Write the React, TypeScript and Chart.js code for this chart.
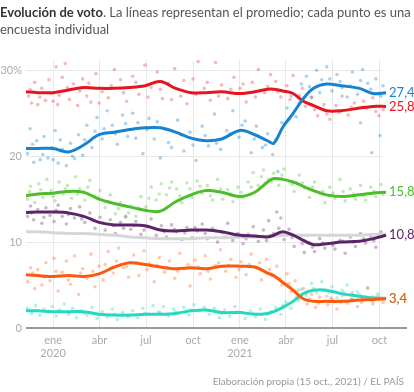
import { useEffect, useRef } from "react";
import { Chart, registerables } from "chart.js";

Chart.register(...registerables);

const FONT = "Lato, 'Open Sans', sans-serif";

// days since 1 Jan 2020
const lineDays = [-53, -30, 0, 30, 60, 90, 120, 150, 180, 210, 240, 270, 300, 330, 366, 395, 420, 432, 450, 470, 490, 510, 535, 565, 600, 626, 652];

const psoeLine = [27.5, 27.4, 27.4, 27.7, 28.0, 27.9, 27.9, 28.0, 28.2, 28.7, 27.9, 27.4, 27.4, 27.5, 27.3, 27.5, 27.8, 27.8, 27.6, 27.3, 26.4, 25.9, 25.3, 25.3, 25.6, 25.8, 25.8];
const ppLine = [20.9, 20.9, 20.9, 20.5, 21.3, 22.5, 22.8, 23.1, 23.3, 23.3, 22.8, 22.1, 21.8, 22.0, 23.0, 22.5, 21.8, 21.5, 23.4, 25.0, 26.7, 27.9, 28.4, 28.2, 27.9, 27.3, 27.4];
const voxLine = [15.4, 15.6, 15.7, 15.9, 15.8, 15.0, 14.5, 14.1, 13.7, 13.6, 14.7, 15.5, 16.0, 15.8, 15.3, 15.8, 17.0, 17.4, 17.3, 17.0, 16.5, 16.0, 15.5, 15.3, 15.5, 15.7, 15.8];
const upLine = [13.45, 13.5, 13.5, 13.4, 13.0, 12.3, 12.0, 12.0, 11.9, 11.4, 11.3, 11.4, 11.4, 11.2, 10.8, 10.7, 10.6, 10.8, 11.2, 10.8, 10.2, 9.7, 9.8, 10.0, 10.1, 10.4, 10.8];
const otherLine = [11.2, 11.2, 11.1, 11.0, 11.0, 10.9, 10.8, 10.6, 10.5, 10.4, 10.4, 10.4, 10.5, 10.5, 10.6, 10.6, 10.7, 10.7, 10.8, 10.8, 10.8, 10.8, 10.8, 10.8, 10.8, 10.9, 10.9];
const csLine = [6.2, 6.1, 6.0, 6.1, 6.0, 6.3, 7.1, 7.6, 7.4, 7.1, 6.9, 7.0, 6.9, 7.2, 7.2, 7.1, 6.4, 6.1, 5.3, 4.4, 3.4, 3.1, 3.1, 3.1, 3.25, 3.3, 3.4];
const mpLine = [2.0, 2.0, 1.9, 1.9, 1.9, 1.6, 1.5, 1.5, 1.6, 1.6, 1.7, 2.0, 2.1, 1.8, 1.8, 1.6, 1.7, 1.9, 2.4, 3.1, 4.0, 4.4, 4.4, 4.0, 3.7, 3.5, 3.45];

// individual polls [day, value]
const psoeDots = [[-48,27.0],[-42,26.2],[-36,28.6],[-30,26.0],[-22,27.9],[-15,26.5],[-8,28.9],[0,26.4],[6,30.4],[12,27.1],[18,29.2],[24,30.8],[32,26.6],[40,28.4],[48,25.9],[58,29.0],[66,27.0],[74,26.3],[84,29.6],[96,27.5],[108,26.8],[120,30.1],[132,28.9],[144,26.4],[156,29.3],[168,27.2],[180,30.6],[192,28.0],[204,29.8],[214,26.7],[226,28.5],[238,30.2],[250,27.0],[262,26.1],[274,29.0],[284,31.0],[296,27.9],[308,26.5],[318,30.9],[330,28.3],[342,26.7],[354,29.2],[366,27.9],[378,26.3],[390,28.6],[402,30.1],[414,27.4],[426,29.5],[436,28.7],[446,26.9],[458,28.2],[470,29.4],[482,27.1],[494,25.8],[506,26.9],[518,24.7],[530,26.0],[542,24.3],[554,25.9],[566,27.0],[578,24.8],[590,26.2],[602,23.9],[614,25.6],[626,26.8],[638,24.7],[646,25.4],
  [-45,27.8],[-26,26.9],[-4,27.3],[9,26.0],[28,28.0],[52,27.6],[70,28.5],[90,26.2],[114,28.2],[138,27.4],[162,28.6],[186,26.9],[210,27.8],[232,26.6],[256,28.8],[280,27.2],[302,28.6],[324,27.0],[348,27.8],[372,28.4],[396,26.9],[420,28.1],[440,27.5],[464,26.6],[488,27.9],[512,25.4],[536,24.9],[560,25.1],[584,25.7],[608,26.4],[632,25.2]];
const ppDots = [[-50,20.3],[-45,23.2],[-38,19.3],[-32,21.8],[-25,19.6],[-18,22.3],[-10,19.8],[-3,21.0],[4,23.0],[10,19.2],[18,20.8],[26,18.9],[34,21.5],[42,19.7],[50,22.5],[58,20.1],[66,23.6],[76,21.0],[86,24.5],[96,22.0],[106,25.3],[116,23.6],[126,21.4],[136,24.8],[146,22.3],[156,25.0],[166,23.9],[176,20.3],[188,24.4],[198,22.0],[210,19.8],[220,23.1],[232,21.0],[244,24.2],[256,20.6],[268,22.8],[280,19.5],[292,23.5],[304,21.2],[316,24.9],[328,20.8],[340,23.0],[352,25.3],[364,22.2],[376,24.1],[388,20.4],[398,23.5],[410,21.0],[420,22.6],[430,20.2],[440,18.2],[448,23.9],[458,25.6],[466,27.0],[476,24.6],[486,28.4],[496,29.3],[506,26.8],[516,30.0],[526,28.9],[536,30.4],[546,27.6],[556,29.5],[566,28.0],[576,26.9],[586,29.8],[596,27.2],[606,30.1],[616,28.5],[624,20.4],[632,29.0],[640,22.4],[646,28.2],
  [-40,21.4],[-20,20.2],[0,19.6],[14,21.9],[38,20.0],[62,21.9],[82,22.9],[100,23.2],[122,22.6],[142,23.8],[162,22.1],[184,23.1],[204,24.0],[226,21.6],[250,22.5],[274,21.3],[298,22.4],[320,21.5],[346,22.6],[370,23.6],[394,22.0],[416,21.3],[436,21.9],[462,24.3],[482,26.2],[502,28.1],[522,27.4],[542,29.0],[562,28.7],[582,28.2],[602,28.8],[622,27.8],[642,27.0]];
const voxDots = [[-50,15.0],[-44,16.5],[-36,14.6],[-28,16.8],[-20,15.2],[-12,17.3],[-4,16.0],[4,14.8],[12,17.0],[20,15.6],[28,16.6],[36,15.1],[44,17.6],[52,16.2],[62,14.9],[72,17.2],[82,15.4],[92,16.0],[102,14.0],[112,15.5],[122,13.3],[132,14.6],[142,12.9],[152,14.2],[162,13.0],[172,15.3],[182,14.1],[192,16.4],[202,14.9],[212,16.8],[222,15.5],[232,17.0],[242,16.2],[252,14.6],[262,16.9],[272,15.2],[282,17.1],[292,15.7],[302,16.6],[312,14.9],[322,17.3],[332,15.0],[342,16.1],[352,14.7],[362,16.4],[372,15.2],[382,17.0],[392,18.1],[402,16.6],[412,18.4],[422,17.3],[432,18.0],[442,16.6],[452,18.5],[462,17.0],[472,15.9],[482,17.8],[492,16.3],[502,15.2],[512,17.0],[522,15.8],[532,14.6],[542,16.4],[552,15.1],[562,17.3],[572,14.8],[582,16.2],[592,15.0],[602,16.6],[612,14.9],[622,16.4],[632,15.3],[642,16.7],
  [-46,15.9],[-24,16.1],[0,15.3],[24,16.2],[48,15.6],[68,16.4],[88,15.2],[108,14.7],[128,13.9],[148,13.4],[168,14.0],[188,15.1],[208,15.6],[228,16.3],[248,15.4],[268,16.2],[288,16.5],[308,15.4],[328,16.2],[348,15.6],[368,15.8],[388,16.4],[408,17.6],[428,17.0],[448,17.8],[468,16.7],[488,16.9],[508,16.4],[528,15.9],[548,15.7],[568,15.9],[588,15.6],[608,15.4],[628,15.9],[646,15.5]];
const upDots = [[-50,13.0],[-44,14.2],[-38,12.6],[-30,13.8],[-22,12.2],[-14,14.0],[-6,13.1],[2,12.4],[10,14.3],[18,13.0],[26,12.1],[34,13.9],[42,12.8],[52,14.1],[62,12.3],[72,13.4],[82,11.6],[92,12.9],[102,11.4],[112,12.6],[122,11.0],[132,12.3],[142,13.0],[152,11.5],[162,12.4],[172,10.9],[182,11.8],[192,12.7],[202,10.8],[212,11.9],[222,10.6],[232,12.0],[242,11.2],[252,10.3],[262,11.7],[272,10.5],[282,11.3],[292,12.1],[302,10.4],[312,11.6],[322,10.0],[332,11.1],[342,12.2],[352,10.2],[362,11.0],[372,9.8],[382,10.9],[392,11.8],[402,10.1],[412,11.4],[422,12.5],[432,11.0],[438,13.5],[446,12.8],[452,10.3],[462,11.5],[472,9.5],[482,10.6],[492,8.8],[502,9.9],[512,8.9],[522,10.4],[532,9.3],[542,10.8],[552,9.2],[562,10.2],[572,8.7],[582,10.6],[592,9.5],[602,11.0],[612,9.9],[622,10.7],[632,9.4],[642,11.2],
  [-42,13.4],[-18,12.9],[6,13.7],[30,13.2],[56,12.7],[78,12.5],[98,12.2],[118,11.9],[138,11.6],[158,11.9],[178,11.4],[198,11.6],[218,11.2],[238,11.5],[258,11.1],[278,11.7],[298,11.0],[318,11.3],[338,10.6],[358,10.9],[378,10.4],[398,10.7],[418,10.2],[442,11.6],[468,10.5],[488,9.8],[508,9.4],[528,9.9],[548,9.6],[568,10.1],[588,10.0],[608,10.4],[628,10.2]];
const csDots = [[-50,5.4],[-44,7.0],[-36,4.6],[-30,6.8],[-22,5.0],[-14,7.6],[-6,5.5],[2,8.1],[10,4.3],[18,6.5],[26,7.8],[34,5.1],[42,8.4],[50,3.9],[58,6.9],[66,5.8],[74,8.6],[82,4.8],[90,7.2],[98,5.6],[108,8.9],[118,6.4],[128,9.3],[138,7.0],[148,5.9],[158,8.5],[168,6.1],[178,9.0],[188,7.5],[198,5.4],[208,8.2],[218,6.5],[228,7.8],[238,5.8],[248,8.7],[258,6.9],[268,4.9],[278,7.9],[288,6.3],[298,8.4],[308,5.7],[318,7.3],[328,9.1],[338,6.6],[348,8.0],[358,5.9],[368,7.7],[378,6.2],[388,8.6],[398,7.0],[408,5.6],[418,8.0],[428,6.1],[438,7.2],[448,5.0],[458,6.3],[466,4.2],[474,5.5],[482,3.5],[490,4.6],[498,2.8],[506,3.9],[514,2.4],[522,3.6],[530,4.4],[538,2.7],[546,3.3],[556,2.2],[566,3.8],[576,2.9],[586,4.1],[596,2.5],[606,3.5],[616,4.6],[626,2.8],[636,3.7],[646,3.0],
  [-40,6.4],[-18,5.9],[6,6.6],[30,5.6],[54,6.4],[78,6.6],[102,7.4],[124,7.8],[144,7.2],[164,7.6],[184,6.8],[204,7.3],[224,7.0],[244,6.6],[264,7.4],[284,7.1],[304,6.6],[324,7.6],[344,7.3],[364,6.8],[384,7.4],[404,7.6],[424,6.8],[444,5.8],[462,5.2],[480,4.4],[502,3.4],[520,2.9],[544,3.5],[564,3.0],[584,3.4],[604,3.0],[624,3.6],[642,3.4]];
const mpDots = [[-50,2.3],[-42,1.7],[-34,2.6],[-26,1.5],[-18,2.2],[-10,1.8],[-2,2.5],[6,1.4],[14,2.1],[22,2.8],[30,1.6],[38,2.3],[46,1.2],[56,2.0],[66,1.5],[76,2.4],[86,1.1],[96,1.9],[106,1.3],[116,2.2],[126,1.0],[136,1.8],[146,1.3],[156,2.0],[166,1.2],[176,2.3],[186,1.6],[196,2.6],[206,1.9],[216,2.5],[226,1.4],[236,2.2],[246,1.7],[256,2.4],[266,1.5],[276,2.7],[286,2.0],[296,2.4],[306,1.6],[316,2.3],[326,1.2],[336,2.1],[346,1.4],[356,2.5],[366,1.8],[376,1.1],[386,2.0],[396,1.3],[406,2.2],[416,1.0],[426,1.9],[436,2.4],[446,1.6],[456,3.0],[466,2.3],[476,3.6],[486,4.5],[496,3.8],[506,5.2],[516,4.1],[526,5.4],[536,3.7],[546,4.8],[556,3.5],[566,4.4],[576,5.0],[586,3.3],[596,4.2],[606,3.6],[616,4.7],[626,3.1],[636,4.0],[646,3.4],
  [-38,2.0],[-14,1.9],[10,2.0],[34,1.8],[60,1.7],[90,1.5],[120,1.6],[150,1.4],[180,1.7],[210,1.8],[240,1.9],[270,2.1],[300,2.0],[330,1.7],[360,1.9],[390,1.7],[420,1.6],[450,2.6],[480,3.2],[510,4.6],[540,4.2],[570,4.1],[600,3.9],[630,3.6]];

const tickDays = [0, 91, 182, 274, 366, 456, 547, 639];
const tickLabels = [["ene", "2020"], "abr", "jul", "oct", ["ene", "2021"], "abr", "jul", "oct"];
const yTicks = [0, 10, 20, 30];
const yTickLabels = ["0", "10", "20", "30%"];

const series = [
  { line: ppLine, dots: ppDots, color: "#1683d0", dot: "rgba(22,131,208,0.36)", label: "27,4", order: 1 },
  { line: psoeLine, dots: psoeDots, color: "#e5141f", dot: "rgba(229,20,31,0.3)", label: "25,8", order: 2 },
  { line: voxLine, dots: voxDots, color: "#4dbd2c", dot: "rgba(77,189,44,0.33)", label: "15,8", order: 3 },
  { line: upLine, dots: upDots, color: "#5b2467", dot: "rgba(91,36,103,0.33)", label: "10,8", order: 4 },
  { line: otherLine, dots: [] as number[][], color: "#d6d6d6", dot: "rgba(200,200,200,0.4)", label: "", order: 7 },
  { line: csLine, dots: csDots, color: "#fb5a0c", dot: "rgba(251,90,12,0.33)", label: "3,4", order: 5 },
  { line: mpLine, dots: mpDots, color: "#27d8bf", dot: "rgba(39,216,191,0.36)", label: "3,4", order: 6 },
];

const decor = {
  id: "decor",
  beforeDatasetsDraw(chart: any) {
    const { ctx, chartArea, scales } = chart;
    const x = scales.x, y = scales.y;
    ctx.save();
    ctx.strokeStyle = "#e8e8e8";
    ctx.lineWidth = 1;
    for (const v of [10, 20, 30]) {
      const py = Math.round(y.getPixelForValue(v)) + 0.5;
      ctx.beginPath();
      ctx.moveTo(chartArea.left, py);
      ctx.lineTo(x.getPixelForValue(645), py);
      ctx.stroke();
    }
    ctx.fillStyle = "#aaaaaa";
    ctx.font = `11px ${FONT}`;
    ctx.textAlign = "right";
    ctx.textBaseline = "middle";
    yTicks.forEach((v, i) => ctx.fillText(yTickLabels[i], chartArea.left - 4, y.getPixelForValue(v)));
    ctx.restore();
  },
  afterDatasetsDraw(chart: any) {
    const { ctx, chartArea, scales } = chart;
    const x = scales.x, y = scales.y;
    ctx.save();
    ctx.strokeStyle = "#9a9a9a";
    ctx.lineWidth = 2;
    const py = y.getPixelForValue(0);
    ctx.beginPath();
    ctx.moveTo(chartArea.left, py);
    ctx.lineTo(chartArea.right, py);
    ctx.stroke();
    ctx.font = `13px ${FONT}`;
    ctx.textAlign = "left";
    ctx.textBaseline = "middle";
    const lastDay = lineDays[lineDays.length - 1];
    const lx = x.getPixelForValue(lastDay) + 3;
    [...series].reverse().forEach((s) => {
      if (!s.label) return;
      ctx.fillStyle = s.color;
      ctx.fillText(s.label, lx, y.getPixelForValue(s.line[s.line.length - 1]));
    });
    ctx.restore();
  },
};

export default function App() {
  const ref = useRef<HTMLCanvasElement>(null);
  useEffect(() => {
    if (!ref.current) return;
    const datasets: any[] = [];
    series.forEach((s) => {
      datasets.push({
        data: lineDays.map((d, i) => ({ x: d, y: s.line[i] })),
        borderColor: s.color,
        backgroundColor: s.color,
        borderWidth: 3,
        pointRadius: 0,
        tension: 0.35,
        fill: false,
        order: s.order,
      });
      if (s.dots.length) {
        datasets.push({
          data: s.dots.map((p) => ({ x: p[0], y: p[1] })),
          showLine: false,
          pointRadius: 1.8,
          pointBorderWidth: 0,
          pointBackgroundColor: s.dot,
          borderColor: s.dot,
          backgroundColor: s.dot,
          order: 20 + s.order,
        });
      }
    });
    const chart = new Chart(ref.current, {
      type: "line",
      data: { datasets },
      options: {
        animation: false,
        responsive: false,
        maintainAspectRatio: false,
        layout: { padding: { left: 26, right: 7, top: 60, bottom: 24 } },
        plugins: { legend: { display: false }, tooltip: { enabled: false } },
        scales: {
          x: {
            type: "linear",
            min: -53,
            max: 693,
            afterBuildTicks: (scale: any) => {
              scale.ticks = tickDays.map((v) => ({ value: v }));
            },
            afterFit: (scale: any) => {
              scale.height = 40;
            },
            ticks: {
              autoSkip: false,
              maxRotation: 0,
              padding: 6,
              color: "#aaaaaa",
              font: { family: FONT, size: 11 },
              callback: (_v: any, i: number) => tickLabels[i],
            },
            grid: { color: "#e8e8e8", lineWidth: 1, drawTicks: false },
            border: { display: false },
          },
          y: {
            display: false,
            min: 0,
            max: 31.2,
          },
        },
      },
      plugins: [decor],
    });
    return () => chart.destroy();
  }, []);

  return (
    <div style={{ position: "fixed", left: 0, top: 0, width: 414, height: 392, background: "#fff", fontFamily: FONT }}>
      <canvas ref={ref} width={414} height={392} style={{ position: "absolute", left: 0, top: 0 }} />
      <div style={{ position: "absolute", left: 0, top: 4, width: 412, fontSize: 13, lineHeight: "17px", color: "#555" }}>
        <b style={{ color: "#333" }}>Evolución de voto</b>. La líneas representan el promedio; cada punto es una encuesta individual
      </div>
      <div style={{ position: "absolute", right: 10, top: 374, fontSize: 10, lineHeight: "14px", color: "#999" }}>
        Elaboración propia (15 oct., 2021) / EL PAÍS
      </div>
    </div>
  );
}
